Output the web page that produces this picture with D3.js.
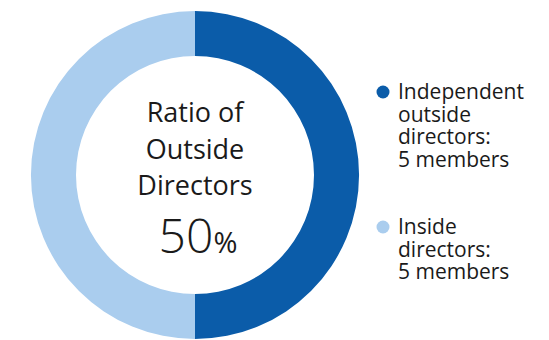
<!DOCTYPE html>
<html>
<head>
<meta charset="utf-8">
<script src="https://cdn.jsdelivr.net/npm/d3@7"></script>
<style>
  body { margin: 0; background: #fff; }
  text { font-family: "Open Sans", "Noto Sans", sans-serif; fill: #1a1a1a; }
</style>
</head>
<body>
<div id="chart"></div>
<script>
// data
var categories = ['Independent outside directors', 'Inside directors'];
var members = [5, 5];
var legendLines = [
  ['Independent', 'outside', 'directors:', '5 members'],
  ['Inside', 'directors:', '5 members']
];
var centerLines = ['Ratio of', 'Outside', 'Directors'];
var colors = ['#0b5ca9', '#aacdee'];

var width = 549,
  height = 340,
  cx = 195,
  cy = 175,
  outerR = 164,
  innerR = 119;

var svg = d3.select('#chart')
  .append('svg')
  .attr('width', width)
  .attr('height', height);

var pie = d3.pie().sort(null).value(function(d) { return d; });
var arc = d3.arc().innerRadius(innerR).outerRadius(outerR);

var g = svg.append('g').attr('transform', 'translate(' + cx + ',' + cy + ')');

g.selectAll('path')
  .data(pie(members))
  .enter()
  .append('path')
  .attr('d', arc)
  .attr('fill', function(d, i) { return colors[i]; });

// center label
g.selectAll('text.center')
  .data(centerLines)
  .enter()
  .append('text')
  .attr('class', 'center')
  .attr('x', 0)
  .attr('y', function(d, i) { return -53 + i * 36.5; })
  .attr('text-anchor', 'middle')
  .style('font-size', '27px')
  .text(function(d) { return d; });

var ratio = Math.round(members[0] / d3.sum(members) * 100);
var pct = g.append('text')
  .attr('x', 3)
  .attr('y', 78)
  .attr('text-anchor', 'middle');
pct.append('tspan').style('font-size', '48px').style('font-weight', 300).text(ratio);
pct.append('tspan').style('font-size', '29px').style('font-weight', 400).text('%');

// legend
var legendTop = [99, 234];
var legend = svg.selectAll('g.legend')
  .data(categories)
  .enter()
  .append('g')
  .attr('class', 'legend')
  .attr('transform', function(d, i) { return 'translate(383,' + legendTop[i] + ')'; });

legend.append('circle')
  .attr('cx', 0)
  .attr('cy', -7)
  .attr('r', 6.5)
  .attr('fill', function(d, i) { return colors[i]; });

legend.each(function(d, i) {
  d3.select(this).selectAll('text')
    .data(legendLines[i])
    .enter()
    .append('text')
    .attr('x', 15)
    .attr('y', function(t, j) { return j * 22.7; })
    .style('font-size', '21px')
    .text(function(t) { return t; });
});
</script>
</body>
</html>
